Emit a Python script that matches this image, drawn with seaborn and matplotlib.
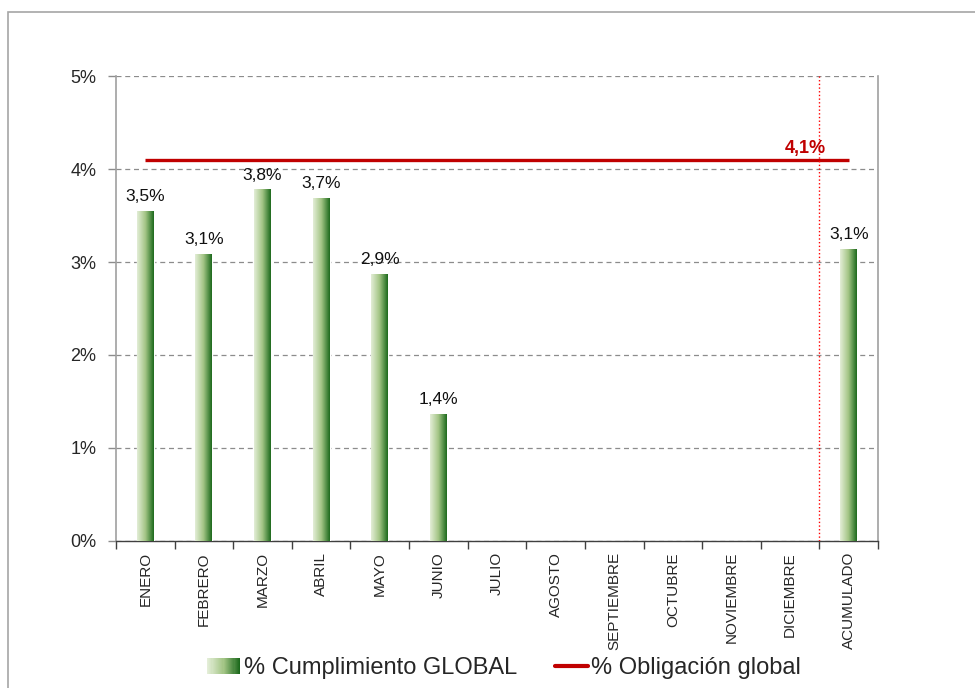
import numpy as np
import pandas as pd
import matplotlib
matplotlib.use('Agg')
import matplotlib.pyplot as plt
import seaborn as sns
from matplotlib.colors import LinearSegmentedColormap
from matplotlib.patches import Rectangle
from matplotlib.lines import Line2D
from matplotlib.legend_handler import HandlerBase

# Datos
meses = ['ENERO', 'FEBRERO', 'MARZO', 'ABRIL', 'MAYO', 'JUNIO', 'JULIO', 'AGOSTO',
         'SEPTIEMBRE', 'OCTUBRE', 'NOVIEMBRE', 'DICIEMBRE', 'ACUMULADO']
cumplimiento = [3.55, 3.09, 3.78, 3.69, 2.87, 1.37, np.nan, np.nan,
                np.nan, np.nan, np.nan, np.nan, 3.14]
etiquetas = ['3,5%', '3,1%', '3,8%', '3,7%', '2,9%', '1,4%', '', '', '', '', '', '', '3,1%']
obligacion = [4.1, 4.1, 4.1, 4.1, 4.1, 4.1, 4.1, 4.1, 4.1, 4.1, 4.1, 4.1, 4.1]
etiqueta_obligacion = '4,1%'
yticks = [0, 1, 2, 3, 4, 5]
ytick_labels = ['0%', '1%', '2%', '3%', '4%', '5%']

df = pd.DataFrame({'mes': meses, 'valor': cumplimiento})

sns.set_style('white')
plt.rcParams['font.family'] = ['Liberation Sans', 'DejaVu Sans']

verdes = LinearSegmentedColormap.from_list('verdes', ['#e4eed8', '#a3c585', '#1b681b'])
gradiente = np.linspace(0, 1, 256).reshape(1, -1)

fig = plt.figure(figsize=(9.75, 6.88), dpi=100)
ax = fig.add_axes([0.119, 0.2137, 0.7815, 0.6758])

# borde del grafico
fig.patches.append(Rectangle((8 / 975, -0.05), 1.0, 1 - 12 / 688 + 0.05, transform=fig.transFigure,
                             fill=False, edgecolor='#a6a6a6', linewidth=1.2, zorder=0))

sns.barplot(data=df, x='mes', y='valor', order=meses, width=0.29, color='#6a9a4a', ax=ax, zorder=3)

# relleno degradado en cada barra
for p in ax.patches:
    h = p.get_height()
    if np.isnan(h) or h == 0:
        continue
    x0, w = p.get_x(), p.get_width()
    im = ax.imshow(gradiente, cmap=verdes, aspect='auto', extent=[x0, x0 + w, 0, h],
                   zorder=4, interpolation='bicubic')
    im.set_clip_path(p)

xs = np.arange(len(meses))
for x, v, t in zip(xs, cumplimiento, etiquetas):
    if t:
        ax.annotate(t, (x, v), xytext=(0, 5), textcoords='offset points',
                    ha='center', va='bottom', fontsize=12.5, color='#111111', zorder=6)

ax.plot(xs, obligacion, color='#c00000', linewidth=2.4, zorder=5, solid_capstyle='butt')
ax.annotate(etiqueta_obligacion, (11.26, obligacion[-1]), xytext=(0, 2), textcoords='offset points',
            ha='center', va='bottom', fontsize=13, fontweight='bold', color='#c00000', zorder=6)
ax.axvline(11.5, color='#ff0000', linestyle=':', linewidth=1, zorder=5)

ax.set_xlim(-0.5, len(meses) - 0.5)
ax.set_ylim(0, 5)
ax.set_yticks(yticks)
ax.set_yticklabels(ytick_labels, fontsize=13)
ax.yaxis.grid(True, color='#8c8c8c', linestyle=(0, (4, 3)), linewidth=0.9)
ax.set_axisbelow(True)
ax.set_xlabel('')
ax.set_ylabel('')

ax.set_xticks(xs)
ax.set_xticklabels(meses, rotation=90, fontsize=11)
ax.set_xticks(np.arange(-0.5, len(meses), 1), minor=True)
ax.tick_params(axis='x', which='both', bottom=True)
ax.tick_params(axis='x', which='major', length=0, pad=8)
ax.tick_params(axis='x', which='minor', length=6, width=1, color='#404040', direction='out')
ax.tick_params(axis='y', left=True, length=6, width=1, color='#8c8c8c', direction='out', pad=8)

for s in ['left', 'right']:
    ax.spines[s].set_color('#a0a0a0')
    ax.spines[s].set_linewidth(1.2)
ax.spines['bottom'].set_color('#404040')
ax.spines['bottom'].set_linewidth(1)
ax.spines['top'].set_visible(False)


class HandlerGradiente(HandlerBase):
    def create_artists(self, legend, orig_handle, xdescent, ydescent, width, height, fontsize, trans):
        n = 30
        arts = []
        for i in range(n):
            r = Rectangle((-xdescent + width * i / n, -ydescent), width / n + 0.3, height,
                          facecolor=verdes(i / (n - 1)), edgecolor='none', transform=trans)
            arts.append(r)
        return arts


h_barra = Rectangle((0, 0), 1, 1)
h_linea = Line2D([0], [0], color='#c00000', linewidth=3)
fig.legend([h_barra, h_linea], ['% Cumplimiento GLOBAL', '% Obligación global'],
           handler_map={Rectangle: HandlerGradiente()}, loc='center', ncol=2,
           bbox_to_anchor=(0.517, 0.029), frameon=False, fontsize=17,
           handlelength=1.4, handletextpad=0.15, columnspacing=1.6)

fig.savefig('out.png', dpi=100)
